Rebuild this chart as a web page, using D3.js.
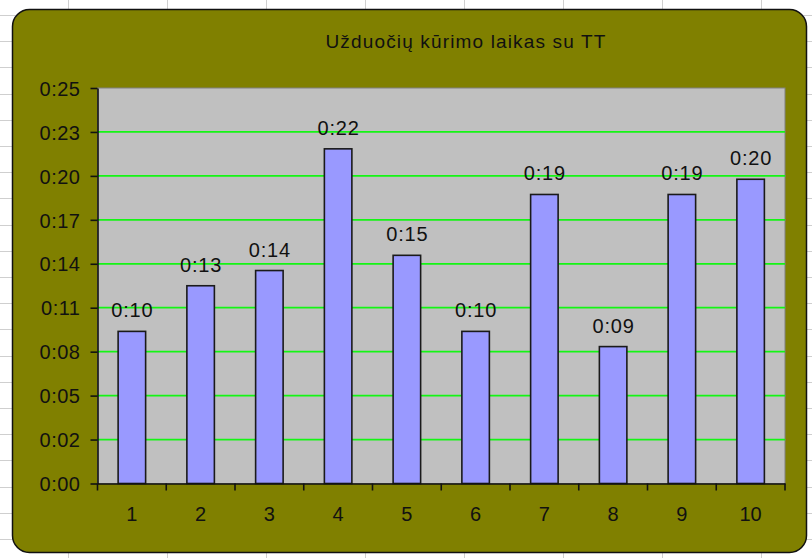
<!DOCTYPE html>
<html>
<head>
<meta charset="utf-8">
<script src="https://cdn.jsdelivr.net/npm/d3@7/dist/d3.min.js"></script>
<style>
  html, body { margin: 0; padding: 0; background: #ffffff; }
  svg { display: block; }
  text { font-family: Arial, "Liberation Sans", sans-serif; fill: #111; }
</style>
</head>
<body>
<svg id="chart" width="812" height="558"></svg>
<script>
// Task creation time per task, in minutes
const categories = ["1", "2", "3", "4", "5", "6", "7", "8", "9", "10"];
const minutes = [10, 13, 14, 22, 15, 10, 19, 9, 19, 20];
const axisMax = 26;
const tickLabels = ["0:00", "0:02", "0:05", "0:08", "0:11", "0:14", "0:17", "0:20", "0:23", "0:25"];
const title = "Užduočių kūrimo laikas su TT";

const W = 812, H = 558;
const svg = d3.select("#chart");

// worksheet cell grid behind the chart object
const sheet = svg.append("g").attr("stroke", "#cfcfcf").attr("stroke-width", 1);
d3.range(68, W, 99).forEach(x => sheet.append("line")
  .attr("x1", x + 0.5).attr("x2", x + 0.5).attr("y1", 0).attr("y2", H));
d3.range(15, H, 26.2).forEach(y => sheet.append("line")
  .attr("x1", 0).attr("x2", W).attr("y1", Math.round(y) + 0.5).attr("y2", Math.round(y) + 0.5));

// chart area
svg.append("rect")
  .attr("x", 12.5).attr("y", 9.5).attr("width", 794).attr("height", 543)
  .attr("rx", 17).attr("ry", 17)
  .attr("fill", "#808000").attr("stroke", "#111").attr("stroke-width", 1.5);

const plot = { left: 97.5, right: 785, top: 88, bottom: 483.5 };

const x = d3.scaleBand()
  .domain(categories)
  .range([plot.left, plot.right])
  .paddingInner(0.6)
  .paddingOuter(0.3);

const y = d3.scaleLinear()
  .domain([0, axisMax])
  .range([plot.bottom, plot.top]);

// plot area
svg.append("rect")
  .attr("x", plot.left).attr("y", plot.top)
  .attr("width", plot.right - plot.left).attr("height", plot.bottom - plot.top)
  .attr("fill", "#c0c0c0").attr("stroke", "#808080").attr("stroke-width", 1);

const tickValues = tickLabels.map((_, i) => i * axisMax / (tickLabels.length - 1));

// horizontal gridlines
svg.append("g")
  .selectAll("line")
  .data(tickValues.slice(1, -1))
  .join("line")
  .attr("x1", plot.left).attr("x2", plot.right)
  .attr("y1", d => y(d)).attr("y2", d => y(d))
  .attr("stroke", "#14f514").attr("stroke-width", 1.7);

// bars
svg.append("g")
  .selectAll("rect")
  .data(minutes)
  .join("rect")
  .attr("x", (d, i) => x(categories[i]))
  .attr("y", d => y(d))
  .attr("width", x.bandwidth())
  .attr("height", d => y(0) - y(d))
  .attr("fill", "#9999ff")
  .attr("stroke", "#1a1a1a")
  .attr("stroke-width", 1.6);

// value labels
const fmt = v => "0:" + String(Math.round(v)).padStart(2, "0");
svg.append("g")
  .selectAll("text")
  .data(minutes)
  .join("text")
  .attr("x", (d, i) => x(categories[i]) + x.bandwidth() / 2 + 0.4)
  .attr("y", d => y(d) - 14)
  .attr("text-anchor", "middle")
  .attr("font-size", 20)
  .attr("letter-spacing", 0.8)
  .text(d => fmt(d));

// y axis
const yAxis = d3.axisLeft(y)
  .tickValues(tickValues)
  .tickFormat((d, i) => tickLabels[i])
  .tickSize(7)
  .tickSizeOuter(0)
  .tickPadding(10);
const gy = svg.append("g")
  .attr("transform", `translate(${plot.left},0)`)
  .call(yAxis);
gy.select(".domain").attr("stroke", "#111").attr("stroke-width", 1.6);
gy.selectAll(".tick line").attr("stroke", "#111").attr("stroke-width", 1.6);
gy.selectAll(".tick text")
  .attr("font-size", 20)
  .attr("letter-spacing", 0.5)
  .attr("font-family", "Arial, 'Liberation Sans', sans-serif")
  .attr("fill", "#111")
  .attr("dy", "0.36em");

// x axis with ticks on category boundaries
const xAxis = d3.axisBottom(x).tickSize(0).tickSizeOuter(0).tickPadding(30);
const gx = svg.append("g")
  .attr("transform", `translate(0,${plot.bottom})`)
  .call(xAxis);
gx.select(".domain").attr("stroke", "#111").attr("stroke-width", 1.6);
gx.selectAll(".tick text")
  .attr("font-size", 20)
  .attr("font-family", "Arial, 'Liberation Sans', sans-serif")
  .attr("fill", "#111")
  .attr("dy", "0.36em");
const step = x.step();
gx.append("g")
  .selectAll("line")
  .data(d3.range(categories.length + 1))
  .join("line")
  .attr("x1", i => plot.left + i * step).attr("x2", i => plot.left + i * step)
  .attr("y1", 0).attr("y2", 7)
  .attr("stroke", "#111").attr("stroke-width", 1.6);

// title
svg.append("text")
  .attr("x", 466).attr("y", 48)
  .attr("text-anchor", "middle")
  .attr("font-size", 19)
  .attr("letter-spacing", 1.15)
  .text(title);
</script>
</body>
</html>
